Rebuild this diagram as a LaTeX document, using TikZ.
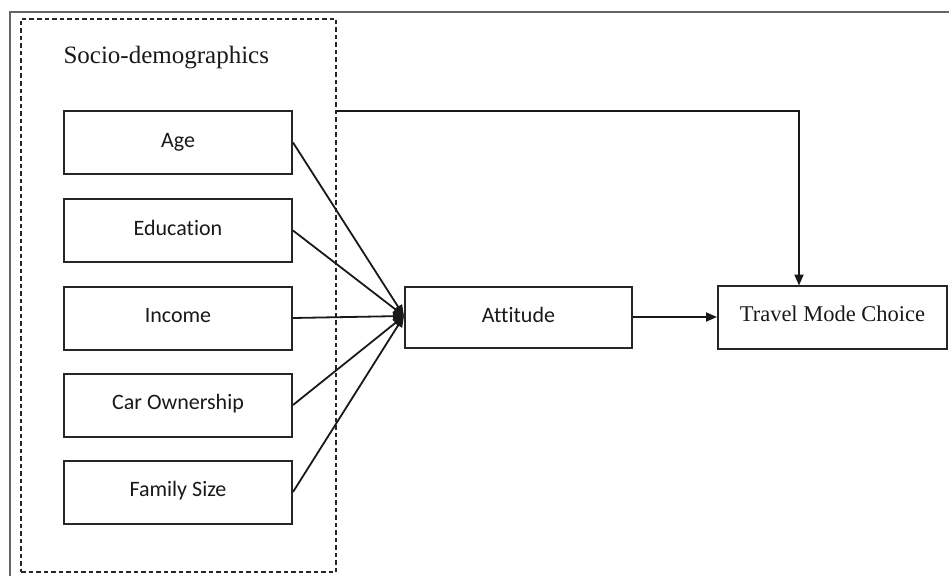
\documentclass[tikz,border=0pt]{standalone}
\usepackage{fontspec}
\setmainfont{Liberation Serif}
\newfontfamily\boxfont[Ligatures=CommonOff]{Carlito}
\usetikzlibrary{arrows.meta,positioning}

\begin{document}
\begin{tikzpicture}[
  x=1pt, y=-1pt,
  factor/.style={draw=black!85, line width=2pt, minimum width=228pt, minimum height=63pt,
    text height=16pt, text depth=7pt,
    font=\boxfont\fontsize{22}{26}\selectfont, text=black!90},
  group/.style={draw=black!85, line width=2pt, dash pattern=on 4.5pt off 3pt,
    minimum width=315pt, minimum height=553pt},
  arrow/.style={draw=black!90, line width=1.8pt, -{Triangle[length=11pt,width=9pt]}}
]
\useasboundingbox (0,0) rectangle (949,575);

% Outer frame
\draw[black!60, line width=2.5pt] (10,580) -- (10,12) -- (955,12);

% Group of socio-demographic factors
\node[group] (socio) at (178.5,295.5) {};
\node[anchor=base west, font=\fontsize{25}{30}\selectfont, text=black!90] (sociolabel) at (60,64) {Socio-demographics};

% Factors
\node[factor] (age) at (178,142.5) {Age};
\node[factor] (edu) at (178,230.5) {Education};
\node[factor] (inc) at (178,318) {Income};
\node[factor] (car) at (178,405) {Car Ownership};
\node[factor] (fam) at (178,492) {Family Size};

% Attitude and choice
\node[factor, minimum width=227pt, minimum height=61pt] (att) at (518.5,317.5) {Attitude};
\node[factor, minimum width=229pt, font=\fontsize{22.5}{27}\selectfont] (tmc) at (832.5,317) {Travel Mode Choice};

% Links
\coordinate (hub) at (404,316);
\coordinate (socioout) at (336,111);
\coordinate (tmcin) at (799,285.5);
\foreach \f in {age,edu,inc,car,fam}
  \draw[arrow] (\f.east) -- (hub);
\draw[arrow] (att.east |- tmc.west) -- (tmc.west);
\draw[arrow] (socioout) -| (tmcin);

\end{tikzpicture}
\end{document}
